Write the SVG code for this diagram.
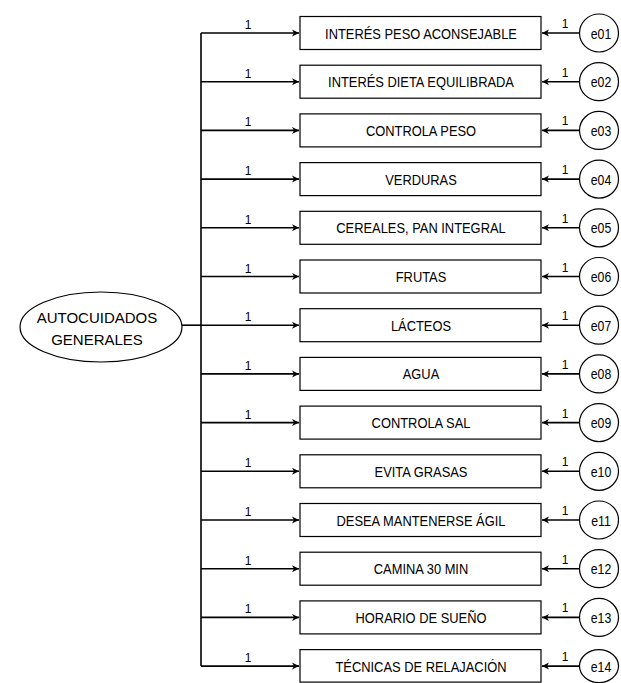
<svg xmlns="http://www.w3.org/2000/svg" width="621" height="683" viewBox="0 0 621 683">
<style>
.box{fill:#fff;stroke:#000;stroke-width:1.2}
.ell{fill:#fff;stroke:#000;stroke-width:1.2}
.ln{stroke:#000;stroke-width:1.6;fill:none}
.t{font-family:"Liberation Sans",Arial,sans-serif;font-size:15px;fill:#000;text-anchor:middle}
.w{font-family:"Liberation Sans",Arial,sans-serif;font-size:12px;fill:#000;text-anchor:middle}
</style>
<defs>
<marker id="ah" markerWidth="8" markerHeight="8" refX="7" refY="4" orient="auto" markerUnits="userSpaceOnUse">
<path d="M0,0.5 L7,4 L0,7.5 L2,4 Z" fill="#000"/>
</marker>
</defs>
<g id="connectors">
<line class="ln" x1="201" y1="33" x2="201" y2="666"/>
<line class="ln" x1="182" y1="325.2" x2="201" y2="325.2"/>
<g marker-end="url(#ah)">
<line class="ln" x1="201" y1="33" x2="299" y2="33"/>
<line class="ln" x1="201" y1="81.7" x2="299" y2="81.7"/>
<line class="ln" x1="201" y1="130.4" x2="299" y2="130.4"/>
<line class="ln" x1="201" y1="179.1" x2="299" y2="179.1"/>
<line class="ln" x1="201" y1="227.8" x2="299" y2="227.8"/>
<line class="ln" x1="201" y1="276.5" x2="299" y2="276.5"/>
<line class="ln" x1="201" y1="325.2" x2="299" y2="325.2"/>
<line class="ln" x1="201" y1="373.9" x2="299" y2="373.9"/>
<line class="ln" x1="201" y1="422.6" x2="299" y2="422.6"/>
<line class="ln" x1="201" y1="471.3" x2="299" y2="471.3"/>
<line class="ln" x1="201" y1="520" x2="299" y2="520"/>
<line class="ln" x1="201" y1="568.7" x2="299" y2="568.7"/>
<line class="ln" x1="201" y1="617.4" x2="299" y2="617.4"/>
<line class="ln" x1="201" y1="666.1" x2="299" y2="666.1"/>
<line class="ln" x1="580" y1="33" x2="542" y2="33"/>
<line class="ln" x1="580" y1="81.7" x2="542" y2="81.7"/>
<line class="ln" x1="580" y1="130.4" x2="542" y2="130.4"/>
<line class="ln" x1="580" y1="179.1" x2="542" y2="179.1"/>
<line class="ln" x1="580" y1="227.8" x2="542" y2="227.8"/>
<line class="ln" x1="580" y1="276.5" x2="542" y2="276.5"/>
<line class="ln" x1="580" y1="325.2" x2="542" y2="325.2"/>
<line class="ln" x1="580" y1="373.9" x2="542" y2="373.9"/>
<line class="ln" x1="580" y1="422.6" x2="542" y2="422.6"/>
<line class="ln" x1="580" y1="471.3" x2="542" y2="471.3"/>
<line class="ln" x1="580" y1="520" x2="542" y2="520"/>
<line class="ln" x1="580" y1="568.7" x2="542" y2="568.7"/>
<line class="ln" x1="580" y1="617.4" x2="542" y2="617.4"/>
<line class="ln" x1="580" y1="666.1" x2="542" y2="666.1"/>
</g>
<g>
<text class="w" x="248" y="29">1</text>
<text class="w" x="248" y="77.7">1</text>
<text class="w" x="248" y="126.4">1</text>
<text class="w" x="248" y="175.1">1</text>
<text class="w" x="248" y="223.8">1</text>
<text class="w" x="248" y="272.5">1</text>
<text class="w" x="248" y="321.2">1</text>
<text class="w" x="248" y="369.9">1</text>
<text class="w" x="248" y="418.6">1</text>
<text class="w" x="248" y="467.3">1</text>
<text class="w" x="248" y="516">1</text>
<text class="w" x="248" y="564.7">1</text>
<text class="w" x="248" y="613.4">1</text>
<text class="w" x="248" y="662.1">1</text>
<text class="w" x="565" y="28">1</text>
<text class="w" x="565" y="76.7">1</text>
<text class="w" x="565" y="125.4">1</text>
<text class="w" x="565" y="174.1">1</text>
<text class="w" x="565" y="222.8">1</text>
<text class="w" x="565" y="271.5">1</text>
<text class="w" x="565" y="320.2">1</text>
<text class="w" x="565" y="368.9">1</text>
<text class="w" x="565" y="417.6">1</text>
<text class="w" x="565" y="466.3">1</text>
<text class="w" x="565" y="515">1</text>
<text class="w" x="565" y="563.7">1</text>
<text class="w" x="565" y="612.4">1</text>
<text class="w" x="565" y="661.1">1</text>
</g>
</g>
<g id="autocuidados">
<ellipse class="ell" cx="101" cy="327" rx="81" ry="35"/>
<text class="t" x="97" y="323">AUTOCUIDADOS</text>
<text class="t" x="97" y="345">GENERALES</text>
</g>
<g id="v01"><rect class="box" x="300" y="16.5" width="241" height="33"/><text class="t" transform="translate(421,38.5) scale(0.86,1)">INTERÉS PESO ACONSEJABLE</text></g>
<g id="v02"><rect class="box" x="300" y="65.2" width="241" height="33"/><text class="t" transform="translate(421,87.2) scale(0.86,1)">INTERÉS DIETA EQUILIBRADA</text></g>
<g id="v03"><rect class="box" x="300" y="113.9" width="241" height="33"/><text class="t" transform="translate(421,135.9) scale(0.86,1)">CONTROLA PESO</text></g>
<g id="v04"><rect class="box" x="300" y="162.6" width="241" height="33"/><text class="t" transform="translate(421,184.6) scale(0.86,1)">VERDURAS</text></g>
<g id="v05"><rect class="box" x="300" y="211.3" width="241" height="33"/><text class="t" transform="translate(421,233.3) scale(0.86,1)">CEREALES, PAN INTEGRAL</text></g>
<g id="v06"><rect class="box" x="300" y="260" width="241" height="33"/><text class="t" transform="translate(421,282) scale(0.86,1)">FRUTAS</text></g>
<g id="v07"><rect class="box" x="300" y="308.7" width="241" height="33"/><text class="t" transform="translate(421,330.7) scale(0.86,1)">LÁCTEOS</text></g>
<g id="v08"><rect class="box" x="300" y="357.4" width="241" height="33"/><text class="t" transform="translate(421,379.4) scale(0.86,1)">AGUA</text></g>
<g id="v09"><rect class="box" x="300" y="406.1" width="241" height="33"/><text class="t" transform="translate(421,428.1) scale(0.86,1)">CONTROLA SAL</text></g>
<g id="v10"><rect class="box" x="300" y="454.8" width="241" height="33"/><text class="t" transform="translate(421,476.8) scale(0.86,1)">EVITA GRASAS</text></g>
<g id="v11"><rect class="box" x="300" y="503.5" width="241" height="33"/><text class="t" transform="translate(421,525.5) scale(0.86,1)">DESEA MANTENERSE ÁGIL</text></g>
<g id="v12"><rect class="box" x="300" y="552.2" width="241" height="33"/><text class="t" transform="translate(421,574.2) scale(0.86,1)">CAMINA 30 MIN</text></g>
<g id="v13"><rect class="box" x="300" y="600.9" width="241" height="33"/><text class="t" transform="translate(421,622.9) scale(0.86,1)">HORARIO DE SUEÑO</text></g>
<g id="v14"><rect class="box" x="300" y="649.6" width="241" height="32.5"/><text class="t" transform="translate(421,671.6) scale(0.86,1)">TÉCNICAS DE RELAJACIÓN</text></g>
<g id="e01"><ellipse class="ell" cx="599" cy="33" rx="19.5" ry="19"/><text class="t" transform="translate(601,38.5) scale(0.82,1)">e01</text></g>
<g id="e02"><ellipse class="ell" cx="599" cy="81.7" rx="19.5" ry="19"/><text class="t" transform="translate(601,87.2) scale(0.82,1)">e02</text></g>
<g id="e03"><ellipse class="ell" cx="599" cy="130.4" rx="19.5" ry="19"/><text class="t" transform="translate(601,135.9) scale(0.82,1)">e03</text></g>
<g id="e04"><ellipse class="ell" cx="599" cy="179.1" rx="19.5" ry="19"/><text class="t" transform="translate(601,184.6) scale(0.82,1)">e04</text></g>
<g id="e05"><ellipse class="ell" cx="599" cy="227.8" rx="19.5" ry="19"/><text class="t" transform="translate(601,233.3) scale(0.82,1)">e05</text></g>
<g id="e06"><ellipse class="ell" cx="599" cy="276.5" rx="19.5" ry="19"/><text class="t" transform="translate(601,282) scale(0.82,1)">e06</text></g>
<g id="e07"><ellipse class="ell" cx="599" cy="325.2" rx="19.5" ry="19"/><text class="t" transform="translate(601,330.7) scale(0.82,1)">e07</text></g>
<g id="e08"><ellipse class="ell" cx="599" cy="373.9" rx="19.5" ry="19"/><text class="t" transform="translate(601,379.4) scale(0.82,1)">e08</text></g>
<g id="e09"><ellipse class="ell" cx="599" cy="422.6" rx="19.5" ry="19"/><text class="t" transform="translate(601,428.1) scale(0.82,1)">e09</text></g>
<g id="e10"><ellipse class="ell" cx="599" cy="471.3" rx="19.5" ry="19"/><text class="t" transform="translate(601,476.8) scale(0.82,1)">e10</text></g>
<g id="e11"><ellipse class="ell" cx="599" cy="520" rx="19.5" ry="19"/><text class="t" transform="translate(601,525.5) scale(0.82,1)">e11</text></g>
<g id="e12"><ellipse class="ell" cx="599" cy="568.7" rx="19.5" ry="19"/><text class="t" transform="translate(601,574.2) scale(0.82,1)">e12</text></g>
<g id="e13"><ellipse class="ell" cx="599" cy="617.4" rx="19.5" ry="19"/><text class="t" transform="translate(601,622.9) scale(0.82,1)">e13</text></g>
<g id="e14"><ellipse class="ell" cx="599" cy="666.1" rx="19.5" ry="16.5"/><text class="t" transform="translate(601,671.6) scale(0.82,1)">e14</text></g>
</svg>
